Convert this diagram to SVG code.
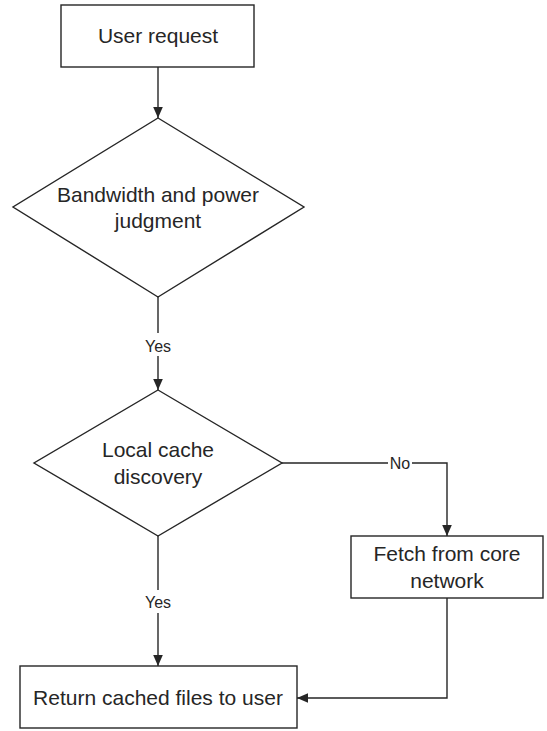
<svg xmlns="http://www.w3.org/2000/svg" width="547" height="731" viewBox="0 0 547 731">
  <style>
    .shape { fill: #ffffff; stroke: #262626; stroke-width: 1.4; }
    .edge { fill: none; stroke: #262626; stroke-width: 1.4; }
    .label { font-family: "Liberation Sans", Arial, sans-serif; font-size: 21px; fill: #262626; text-anchor: middle; }
    .elabel { font-family: "Liberation Sans", Arial, sans-serif; font-size: 16px; fill: #262626; text-anchor: middle; }
    .lbg { fill: #ffffff; stroke: none; }
  </style>
  <defs>
    <marker id="arrow" markerUnits="userSpaceOnUse" markerWidth="12" markerHeight="12" viewBox="0 0 12 12" refX="11" refY="6" orient="auto">
      <path d="M0,1.2 L11,6 L0,10.8 Z" fill="#262626"/>
    </marker>
  </defs>
  <rect width="547" height="731" fill="#ffffff"/>

  <g id="connectors">
    <path class="edge" d="M158,67 L158,118" marker-end="url(#arrow)"/>
    <path class="edge" d="M158,297 L158,390" marker-end="url(#arrow)"/>
    <path class="edge" d="M282,463 L447,463 L447,536" marker-end="url(#arrow)"/>
    <path class="edge" d="M158,536 L158,666" marker-end="url(#arrow)"/>
    <path class="edge" d="M447,598 L447,698 L297,698" marker-end="url(#arrow)"/>
    <rect class="lbg" x="142" y="333" width="32" height="23"/>
    <text class="elabel" x="158" y="352">Yes</text>
    <rect class="lbg" x="388" y="456" width="24" height="15"/>
    <text class="elabel" x="400" y="469">No</text>
    <rect class="lbg" x="142" y="590" width="32" height="23"/>
    <text class="elabel" x="158" y="608">Yes</text>
  </g>

  <g id="user-request">
    <rect class="shape" x="61" y="5" width="193" height="62"/>
    <text class="label" x="158" y="43">User request</text>
  </g>

  <g id="bandwidth-judgment">
    <polygon class="shape" points="158,118 304,207 158,297 13,207"/>
    <text class="label" x="158" y="202">Bandwidth and power</text>
    <text class="label" x="158" y="228">judgment</text>
  </g>

  <g id="local-cache">
    <polygon class="shape" points="158,390 282,463 158,536 34,463"/>
    <text class="label" x="158" y="457">Local cache</text>
    <text class="label" x="158" y="484">discovery</text>
  </g>

  <g id="fetch-core">
    <rect class="shape" x="351" y="536" width="192" height="62"/>
    <text class="label" x="447" y="561">Fetch from core</text>
    <text class="label" x="447" y="588">network</text>
  </g>

  <g id="return-cached">
    <rect class="shape" x="20" y="666" width="277" height="62"/>
    <text class="label" x="158" y="705">Return cached files to user</text>
  </g>
</svg>
